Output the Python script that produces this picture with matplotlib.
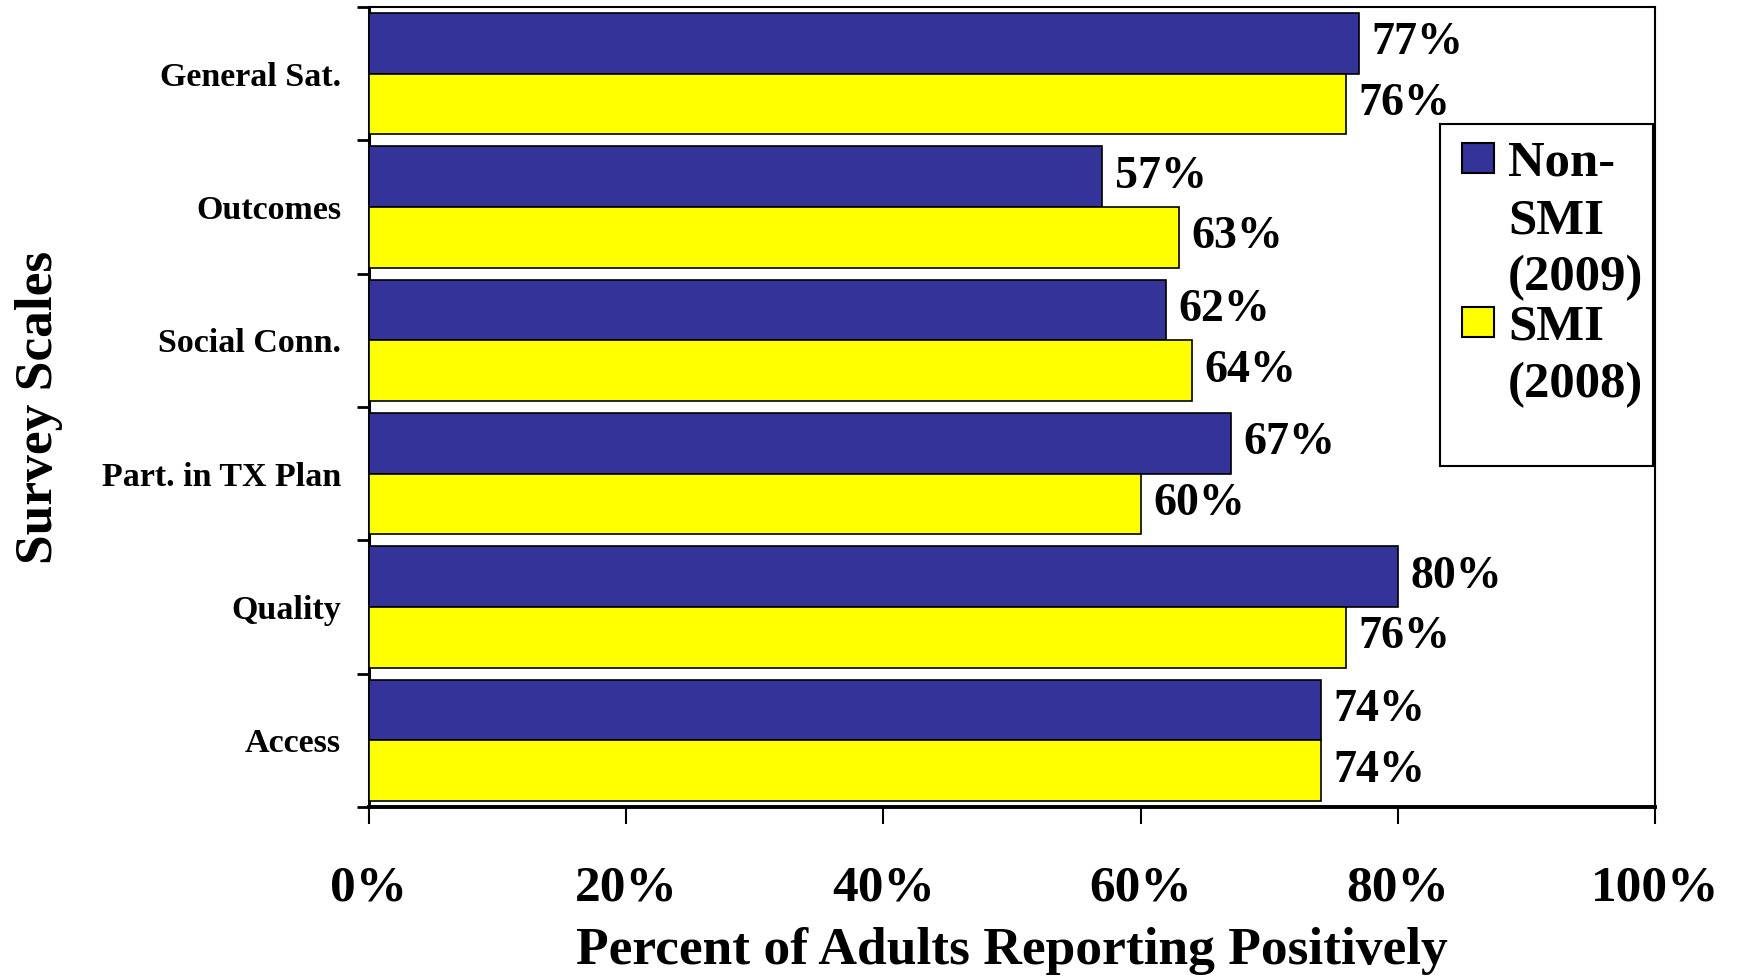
import matplotlib
matplotlib.use("Agg")
import matplotlib.pyplot as plt
import numpy as np
from matplotlib.patches import Rectangle
from matplotlib.ticker import FixedLocator, FuncFormatter

categories = ["General Sat.", "Outcomes", "Social Conn.", "Part. in TX Plan", "Quality", "Access"]
non_smi_2009 = [77, 57, 62, 67, 80, 74]
smi_2008 = [76, 63, 64, 60, 76, 74]
series_labels = ["Non-\nSMI\n(2009)", "SMI\n(2008)"]
x_ticks = [0, 20, 40, 60, 80, 100]

BLUE = "#333399"
YELLOW = "#FFFF00"
FONT = "Liberation Serif"

plt.rcParams["font.family"] = [FONT, "DejaVu Serif"]
plt.rcParams["font.weight"] = "bold"

W, H = 1737, 976
fig = plt.figure(figsize=(W / 100, H / 100), dpi=100)
ax = fig.add_axes([369 / W, 1 - 807 / H, (1655 - 369) / W, (807 - 7) / H])

pos = np.arange(len(categories))
h = 0.455
ax.barh(pos - h / 2, non_smi_2009, height=h, color=BLUE, edgecolor="black", linewidth=1.2, zorder=3)
ax.barh(pos + h / 2, smi_2008, height=h, color=YELLOW, edgecolor="black", linewidth=1.2, zorder=3)

for p, v in zip(pos, non_smi_2009):
    ax.annotate(f"{v}%", (v, p - h / 2), xytext=(9, 0), textcoords="offset points",
                ha="left", va="center", fontsize=33, fontweight="bold")
for p, v in zip(pos, smi_2008):
    ax.annotate(f"{v}%", (v, p + h / 2), xytext=(9, 0), textcoords="offset points",
                ha="left", va="center", fontsize=33, fontweight="bold")

ax.set_xlim(0, 100)
ax.set_ylim(len(categories) - 0.5, -0.5)

ax.xaxis.set_major_locator(FixedLocator(x_ticks))
ax.xaxis.set_major_formatter(FuncFormatter(lambda v, _: f"{int(v)}%"))
ax.tick_params(axis="x", which="major", direction="out", length=12, width=1.5, pad=30,
               labelsize=37)

ax.set_yticks(pos)
ax.set_yticklabels(categories)
ax.yaxis.set_minor_locator(FixedLocator(np.arange(-0.5, len(categories), 1.0)))
ax.tick_params(axis="y", which="major", length=0, pad=20, labelsize=24.5)
ax.tick_params(axis="y", which="minor", direction="out", length=9, width=2)

for lab in ax.get_xticklabels() + ax.get_yticklabels():
    lab.set_fontweight("bold")

ax.spines["left"].set_linewidth(2.2)
ax.spines["bottom"].set_linewidth(2.8)
ax.spines["top"].set_linewidth(1.5)
ax.spines["right"].set_linewidth(1.5)

ax.set_xlabel("Percent of Adults Reporting Positively", fontsize=38.5, fontweight="bold", labelpad=11)
ax.set_ylabel("Survey Scales", fontsize=38.5, fontweight="bold", labelpad=28)

# Legend (manual, to match multi-line layout)
def fx(px):
    return px / W

def fy(py):
    return 1 - py / H

fig.patches.append(Rectangle((fx(1440), fy(466)), fx(1653) - fx(1440), fy(124) - fy(466),
                             transform=fig.transFigure, facecolor="white", edgecolor="black",
                             linewidth=1.5, zorder=10))
colors = [BLUE, YELLOW]
line_baselines = [[175, 233, 290], [339, 397]]
for col, lab, bases in zip(colors, series_labels, line_baselines):
    top = bases[0] - 32
    fig.patches.append(Rectangle((fx(1462), fy(top + 30)), fx(1494) - fx(1462), fy(top) - fy(top + 30),
                                 transform=fig.transFigure, facecolor=col, edgecolor="black",
                                 linewidth=1.5, zorder=11))
    for line, b in zip(lab.split("\n"), bases):
        fig.text(fx(1508), fy(b), line, ha="left", va="baseline", fontsize=36.5,
                 fontweight="bold", zorder=12)

fig.savefig("out.png", dpi=100)
